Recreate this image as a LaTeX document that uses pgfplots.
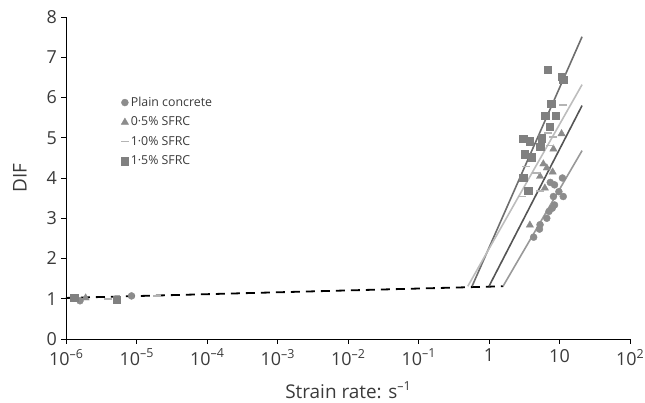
\documentclass[border=0pt]{standalone}
\usepackage{fontspec}
\setmainfont{Open Sans}
\usepackage{pgfplots}
\pgfplotsset{compat=1.18}
\definecolor{mkgray}{HTML}{8C8C8C}
\definecolor{sqgray}{HTML}{808080}
\definecolor{dashgray}{HTML}{B4B4B4}
\definecolor{lnA}{HTML}{6E6E6E}
\definecolor{lnB}{HTML}{BDBDBD}
\definecolor{lnC}{HTML}{555555}
\definecolor{lnD}{HTML}{999999}
\definecolor{txt}{HTML}{3A3A3A}
\newcommand\ssup[1]{\raisebox{0.42em}{\fontsize{12.5}{13}\selectfont #1}}
\begin{document}
\begin{tikzpicture}
\begin{axis}[
  name=ax, at={(0,0)}, anchor=south west,
  scale only axis, width=564bp, height=322bp,
  xmode=log, xmin=1e-6, xmax=100, ymin=0, ymax=8,
  axis lines=left, axis line style={-, black, line width=0.8bp},
  xtick={1e-6,1e-5,1e-4,1e-3,1e-2,1e-1,1,10,100},
  xticklabels={10\ssup{–6},10\ssup{–5},10\ssup{–4},10\ssup{–3},10\ssup{–2},10\ssup{–1},1,10,10\ssup{2}},
  xminorticks=false,
  ytick={0,1,2,3,4,5,6,7,8},
  tick align=outside, major tick length=4.5bp,
  tick style={black, line width=0.8bp},
  ticklabel style={font=\fontsize{18}{20}\selectfont, text=txt},
  yticklabel style={xshift=-1bp},
  xticklabel style={yshift=-2bp},
  /pgf/number format/assume math mode=true,
  xlabel={Strain rate: s\ssup{–1}}, ylabel={DIF},
  label style={font=\fontsize{19}{21}\selectfont, text=txt},
  xlabel style={at={(axis description cs:0.5,-0.158)}, anchor=center},
  ylabel style={at={(axis description cs:-0.082,0.5)}, anchor=center},
  legend style={at={(axis description cs:0.097,0.758)}, anchor=north west, draw=none, fill=none,
    font=\fontsize{12.4}{14}\selectfont, text=txt, row sep=5bp, inner sep=0pt},
  legend cell align=left,
  clip=false,
]
% scatter points
\addplot[only marks, mark=*, mark size=3.5bp, color=mkgray] coordinates {
(1.58e-6,0.95) (8.5e-6,1.07)
(7.4,3.89) (8.5,3.83) (11,4.00) (9.8,3.66) (11.3,3.54) (8.2,3.54)
(8.5,3.33) (7.9,3.25) (7.1,3.17) (6.6,3.00) (5.3,2.84) (5.2,2.73) (4.3,2.53)
};
\addlegendentry{Plain concrete}
\addplot[only marks, mark=triangle*, mark size=4.2bp, color=mkgray] coordinates {
(1.9e-6,1.02)
(10.7,5.10) (8.2,4.72) (5.9,4.35) (6.6,4.25) (8.0,4.15) (5.3,4.04) (6.2,3.75) (3.8,2.83)
};
\addlegendentry{0·5\% SFRC}
\addplot[only marks, mark=-, mark size=4bp, mark options={line width=1.6bp}, color=dashgray] coordinates {
(4.0e-6,0.99) (1.94e-5,1.07)
(11.3,5.81) (6.9,5.12) (8.2,5.02) (7.4,4.81) (3.35,4.29) (4.65,4.12) (2.9,3.54) (5.3,3.67)
};
\addlegendentry{1·0\% SFRC}
\addplot[only marks, mark=square*, mark size=3.7bp, color=sqgray] coordinates {
(1.3e-6,1.03) (5.2e-6,0.97)
(6.8,6.69) (10.7,6.51) (11.3,6.44) (7.6,5.85) (6.3,5.55) (8.8,5.55) (7.2,5.28)
(3.07,4.97) (3.8,4.91) (5.6,4.99) (5.3,4.78) (3.2,4.59) (4.0,4.52) (3.07,4.01) (3.6,3.69)
};
\addlegendentry{1·5\% SFRC}
% fitted lines
\addplot[forget plot, black, line width=1.8bp, dash pattern=on 9bp off 6bp] coordinates {(1e-6,1.02) (1.6,1.31)};
\addplot[forget plot, lnA, line width=1.6bp] coordinates {(0.575,1.31) (20.9,7.51)};
\addplot[forget plot, lnB, line width=1.6bp] coordinates {(0.5,1.31) (20.9,6.32)};
\addplot[forget plot, lnC, line width=1.6bp] coordinates {(1.0,1.31) (20.9,5.80)};
\addplot[forget plot, lnD, line width=1.6bp] coordinates {(1.58,1.31) (20.9,4.68)};
\end{axis}
\pgfresetboundingbox
\path[use as bounding box] (-66bp,-64bp) rectangle (579bp,339bp);
\end{tikzpicture}
\end{document}
